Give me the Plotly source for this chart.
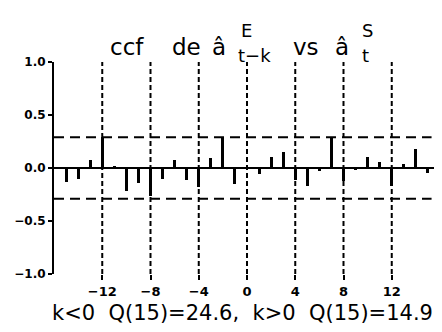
import plotly.graph_objects as go

# ---- data ----
lags = list(range(-15, 16))
ccf = [-0.13, -0.10, 0.075, 0.29, 0.01, -0.22, -0.145, -0.26,
       -0.10, 0.08, -0.11, -0.18, 0.09, 0.28, -0.15,
       -0.02,
       -0.06, 0.105, 0.155, -0.11, -0.17, -0.025, 0.295, -0.12,
       -0.01, 0.105, 0.055, -0.17, 0.04, 0.175, -0.045]
band = 0.29
xtick_vals = [-12, -8, -4, 0, 4, 8, 12]
xtick_text = ["−12", "−8", "−4", "0", "4", "8", "12"]
ytick_vals = [1.0, 0.5, 0.0, -0.5, -1.0]
ytick_text = ["1.0", "0.5", "0.0", "−0.5", "−1.0"]
footer = "k&lt;0  Q(15)=24.6,  k&gt;0  Q(15)=14.9"

# page has an 8px body margin; lay out in page pixels
OFF = 8
W, H = 442 - OFF, 332 - OFF
ML, MT = 54 - OFF, 62 - OFF
PR, PB = 440 - OFF, 274 - OFF
MR, MB = W - PR, H - PB
PW, PH = PR - ML, PB - MT

def px(x):
    return (x - OFF - ML) / PW

def py(y):
    return (PB - (y - OFF)) / PH

fig = go.Figure()
fig.add_trace(go.Bar(x=lags, y=ccf, width=0.24,
                     marker=dict(color="black", line=dict(width=0)),
                     showlegend=False))

shapes = []
for v in xtick_vals:
    shapes.append(dict(type="line", xref="x", yref="y", x0=v, x1=v, y0=-1, y1=1,
                       line=dict(color="black", width=2, dash="5px,3px"), layer="above"))
for b in (band, -band):
    shapes.append(dict(type="line", xref="x", yref="y", x0=-16, x1=15.3, y0=b, y1=b,
                       line=dict(color="black", width=2, dash="10px,6px"), layer="above"))
shapes.append(dict(type="line", xref="x", yref="y", x0=-16, x1=16, y0=0, y1=0,
                   line=dict(color="black", width=2), layer="above"))

tfont = dict(family="DejaVu Sans", size=23, color="black")
sfont = dict(family="DejaVu Sans", size=18, color="black")
ann = []
def add(text, x, y, font):
    ann.append(dict(text=text, x=px(x), y=py(y), xref="paper", yref="paper",
                    xanchor="left", yanchor="middle", showarrow=False, font=font))
add("ccf", 108, 47, tfont)
add("de", 170, 47, tfont)
add("â", 210, 47, tfont)
add("E", 239, 30, sfont)
add("t−k", 236, 55, sfont)
add("vs", 291, 47, tfont)
add("â", 333, 47, tfont)
add("S", 360, 30, sfont)
add("t", 360, 55, sfont)
ann.append(dict(text=footer, x=px(242), y=py(313), xref="paper", yref="paper",
                xanchor="center", yanchor="middle", showarrow=False,
                font=dict(family="DejaVu Sans", size=21, color="black")))

fig.update_layout(
    width=W, height=H,
    margin=dict(l=ML, r=MR, t=MT, b=MB, autoexpand=False),
    plot_bgcolor="white", paper_bgcolor="white",
    shapes=shapes, annotations=ann,
    bargap=0,
    xaxis=dict(range=[-16, 16], showgrid=False, zeroline=False, showline=False,
               automargin=False,
               tickmode="array", tickvals=xtick_vals, ticktext=xtick_text,
               ticks="outside", ticklen=5, tickwidth=1.5, tickcolor="black",
               tickfont=dict(family="DejaVu Sans", size=13, color="black", weight="bold")),
    yaxis=dict(range=[-1, 1], showgrid=False, zeroline=False, showline=True,
               automargin=False,
               linecolor="black", linewidth=2,
               tickmode="array", tickvals=ytick_vals, ticktext=ytick_text,
               ticks="outside", ticklen=4, tickwidth=1.5, tickcolor="black",
               tickfont=dict(family="DejaVu Sans", size=12, color="black", weight="bold")),
)

fig.write_html("out.html")
